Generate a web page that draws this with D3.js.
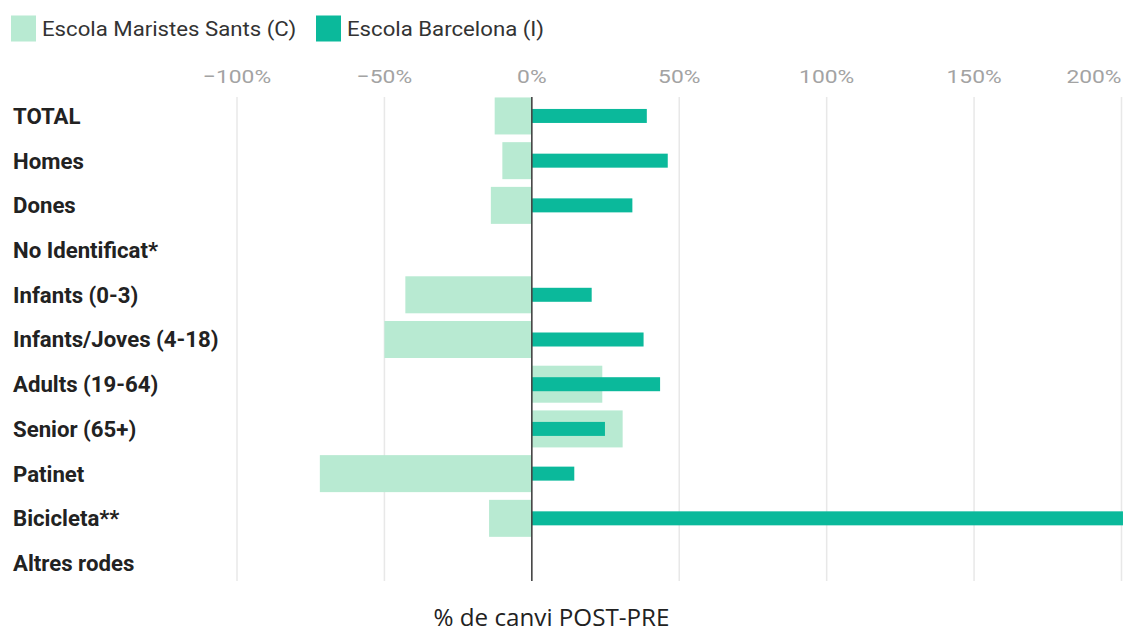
<!DOCTYPE html>
<html>
<head>
<meta charset="utf-8">
<script src="https://cdn.jsdelivr.net/npm/d3@7"></script>
<style>
  html, body { margin: 0; padding: 0; background: #fff; }
  svg { display: block; }
</style>
</head>
<body>
<svg id="chart" width="1125" height="633"></svg>
<script>
const categories = ["TOTAL", "Homes", "Dones", "No Identificat*", "Infants (0-3)", "Infants/Joves (4-18)", "Adults (19-64)", "Senior (65+)", "Patinet", "Bicicleta**", "Altres rodes"];
const seriesNames = ["Escola Maristes Sants (C)", "Escola Barcelona (I)"];
const maristes = [-12.6, -10.0, -13.9, null, -42.9, -50.0, 23.9, 30.8, -71.9, -14.5, null];
const barcelona = [39.0, 46.1, 34.1, null, 20.3, 37.9, 43.5, 24.8, 14.4, 200.5, null];
const tickValues = [-100, -50, 0, 50, 100, 150, 200];
const axisTitle = "% de canvi POST-PRE";

const colors = { light: "#b8ead2", dark: "#0bb99b" };

const svg = d3.select("#chart");

const x = d3.scaleLinear().domain([-100, 200]).range([237, 1121.5]);
const y = d3.scaleBand().domain(categories).range([93.6, 585.4]).padding(0);

// grid lines
svg.append("g").selectAll("line").data(tickValues.filter(d => d !== 0)).join("line")
  .attr("x1", d => x(d)).attr("x2", d => x(d))
  .attr("y1", 97).attr("y2", 581)
  .attr("stroke", "#e8e8e8").attr("stroke-width", 1.5);

// top axis labels (horizontally widened like the reference)
const fmt = d => (d < 0 ? "\u2212" + Math.abs(d) : d) + "%";
const lastTick = tickValues[tickValues.length - 1];
svg.append("g").selectAll("text").data(tickValues).join("text")
  .attr("transform", d => `translate(${x(d)},83) scale(1.2,1)`)
  .attr("text-anchor", d => d === lastTick ? "end" : "middle")
  .attr("font-family", "Roboto").attr("font-size", 19)
  .attr("fill", "#a3a3a3")
  .text(fmt);

const bw = y.bandwidth();
const data = categories.map((c, i) => ({ c, m: maristes[i], b: barcelona[i] }));

// light bars (Maristes)
svg.append("g").selectAll("rect").data(data.filter(d => d.m !== null)).join("rect")
  .attr("x", d => x(Math.min(0, d.m)))
  .attr("width", d => Math.abs(x(d.m) - x(0)))
  .attr("y", d => y(d.c) + bw / 2 - 18.5)
  .attr("height", 37)
  .attr("fill", colors.light);

// dark bars (Barcelona)
svg.append("g").selectAll("rect").data(data.filter(d => d.b !== null)).join("rect")
  .attr("x", d => x(Math.min(0, d.b)))
  .attr("width", d => Math.abs(x(d.b) - x(0)))
  .attr("y", d => y(d.c) + bw / 2 - 7)
  .attr("height", 14)
  .attr("fill", colors.dark);

// zero line
svg.append("line")
  .attr("x1", x(0)).attr("x2", x(0))
  .attr("y1", 97).attr("y2", 581)
  .attr("stroke", "#444").attr("stroke-width", 1.6);

// category labels
svg.append("g").selectAll("text").data(categories).join("text")
  .attr("x", 13)
  .attr("y", d => y(d) + bw / 2)
  .attr("dy", "0.36em")
  .attr("font-family", "Roboto").attr("font-weight", "bold").attr("font-size", 22.2)
  .attr("fill", "#222")
  .text(d => d);

// legend
const legendX = [11, 316];
const lg = svg.append("g");
seriesNames.forEach((s, i) => {
  lg.append("rect").attr("x", legendX[i]).attr("y", 15.5).attr("width", 25).attr("height", 26)
    .attr("fill", i === 0 ? colors.light : colors.dark);
  lg.append("text")
    .attr("transform", `translate(${legendX[i] + 31},35.5) scale(1.11,1)`)
    .attr("font-family", "Roboto").attr("font-size", 20).attr("fill", "#333").text(s);
});

// axis title
svg.append("text").attr("x", 551.5).attr("y", 626)
  .attr("text-anchor", "middle")
  .attr("font-family", "Open Sans").attr("font-size", 24.2).attr("fill", "#222")
  .text(axisTitle);
</script>
</body>
</html>
